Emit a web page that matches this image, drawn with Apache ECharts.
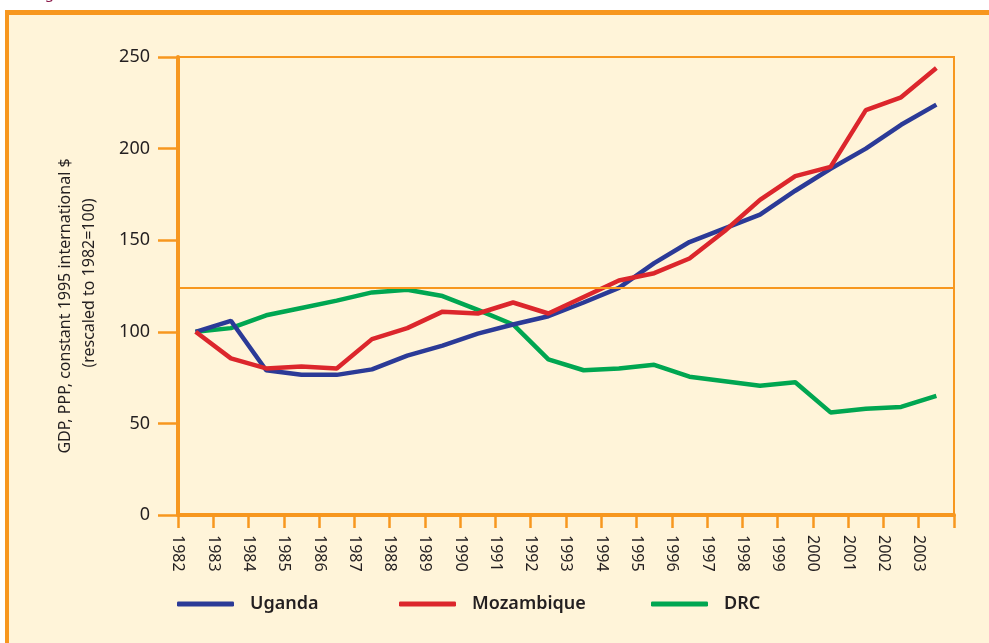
<!DOCTYPE html>
<html lang="en">
<head>
    <meta charset="utf-8">
    <script src="https://cdn.jsdelivr.net/npm/echarts@6/dist/echarts.min.js"></script>
    <style>
        body { margin: 0; background: #fff; }
        #gdpChart { width: 989px; height: 643px; }
    </style>
</head>
<body>
<div id="gdpChart"></div>
<script type="text/javascript">
    // data (index, 1982 = 100)
    var years = [1982, 1983, 1984, 1985, 1986, 1987, 1988, 1989, 1990, 1991, 1992,
        1993, 1994, 1995, 1996, 1997, 1998, 1999, 2000, 2001, 2002, 2003];
    var uganda = [100, 106, 79, 76.5, 76.5, 79.5, 87, 92.5, 99, 104, 108.5,
        116, 124, 137.5, 149, 156.5, 164, 177, 189, 200, 213, 224];
    var mozambique = [100, 85.5, 80, 81, 80, 96, 102, 111, 110, 116, 110,
        119, 128, 132, 140, 155, 172, 185, 190, 221, 228, 244];
    var drc = [100, 102, 109, 113, 117, 121.5, 123, 119.5, 112, 104, 85,
        79, 80, 82, 75.5, 73, 70.5, 72.5, 56, 58, 59, 65];
    var yTicks = [0, 50, 100, 150, 200, 250];
    var refLine = 124.3;   // stray horizontal rule in the original

    var orange = '#F7971F';
    var textColor = '#231F20';

    // points sit in the middle of each year's band, labels sit on the band edge
    function toPoints(values) {
        return values.map(function (v, i) { return [years[i] + 0.5, v]; });
    }

    var chart = echarts.init(document.getElementById('gdpChart'));

    function legendAt(name, left) {
        return {
            data: [name],
            left: left,
            top: 590,
            icon: 'roundRect',
            itemWidth: 57,
            itemHeight: 5,
            textStyle: {
                color: textColor, fontSize: 18, fontWeight: 600,
                fontFamily: 'Noto Sans', padding: [0, 0, 0, 11]
            },
            selectedMode: false
        };
    }

    var option = {
        backgroundColor: '#fff',
        animation: false,
        graphic: [
            { type: 'rect', shape: { x: 9, y: 14, width: 980, height: 629 }, style: { fill: '#FFF4D9' }, z: -10 },
            { type: 'rect', shape: { x: 5, y: 10, width: 984, height: 5 }, style: { fill: orange }, z: -9 },
            { type: 'rect', shape: { x: 5, y: 10, width: 4, height: 633 }, style: { fill: orange }, z: -9 },
            { type: 'text', x: 33, y: -14, style: { text: 'Fig', fontSize: 15, fill: '#8B1A4A', fontFamily: 'Noto Sans' } },
            {
                type: 'text', x: 65, y: 306, rotation: Math.PI / 2,
                style: {
                    text: 'GDP, PPP, constant 1995 international $', fontSize: 16,
                    fill: textColor, fontFamily: 'Noto Sans', align: 'center', verticalAlign: 'middle'
                }
            },
            {
                type: 'text', x: 89, y: 283, rotation: Math.PI / 2,
                style: {
                    text: '(rescaled to 1982=100)', fontSize: 16,
                    fill: textColor, fontFamily: 'Noto Sans', align: 'center', verticalAlign: 'middle'
                }
            }
        ],
        grid: {
            left: 178, top: 57, right: 35, bottom: 128,
            show: true, borderColor: orange, borderWidth: 2, backgroundColor: 'transparent'
        },
        legend: [
            legendAt('Uganda', 172),
            legendAt('Mozambique', 394),
            legendAt('DRC', 646)
        ],
        xAxis: {
            type: 'value',
            min: years[0],
            max: years[years.length - 1] + 1,
            interval: 1,
            axisLine: { lineStyle: { color: orange, width: 4 } },
            axisTick: { length: 13, lineStyle: { color: orange, width: 2.5 } },
            splitLine: { show: false },
            axisLabel: {
                rotate: -90,
                margin: 20,
                color: textColor,
                fontSize: 16,
                fontFamily: 'Noto Sans',
                formatter: function (v) { return years.indexOf(v) >= 0 ? String(v) : ''; }
            }
        },
        yAxis: {
            type: 'value',
            min: yTicks[0],
            max: yTicks[yTicks.length - 1],
            interval: 50,
            axisLine: { show: true, lineStyle: { color: orange, width: 4 } },
            axisTick: { show: true, length: 20, lineStyle: { color: orange, width: 2.5 } },
            splitLine: { show: false },
            axisLabel: {
                margin: 28,
                color: textColor,
                fontSize: 18,
                fontFamily: 'Noto Sans'
            }
        },
        series: [
            {
                name: 'Uganda', type: 'line', data: toPoints(uganda),
                symbol: 'none', color: '#2B3A97', lineStyle: { width: 4.5 }, z: 3
            },
            {
                name: 'Mozambique', type: 'line', data: toPoints(mozambique),
                symbol: 'none', color: '#DC262C', lineStyle: { width: 4.5 }, z: 4,
                markLine: {
                    silent: true, symbol: 'none', label: { show: false },
                    lineStyle: { color: orange, width: 2, type: 'solid' },
                    data: [{ yAxis: refLine }]
                }
            },
            {
                name: 'DRC', type: 'line', data: toPoints(drc),
                symbol: 'none', color: '#00A651', lineStyle: { width: 4.5 }, z: 2
            }
        ]
    };

    chart.setOption(option);
</script>
</body>
</html>
